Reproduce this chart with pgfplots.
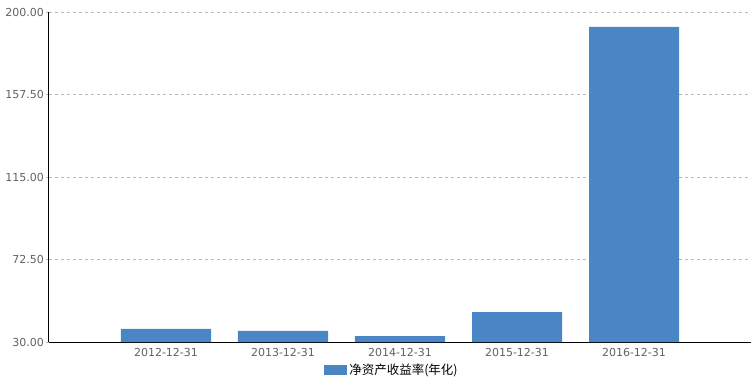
\documentclass[border=0pt]{standalone}
\usepackage{pgfplots}
\pgfplotsset{compat=1.18}
\usepackage{fontspec}
\setmainfont{DejaVu Sans}
\newfontfamily\cjk{Noto Sans CJK SC}
\definecolor{barblue}{RGB}{74,134,198}
\definecolor{ticklab}{RGB}{96,96,104}
\begin{document}
\begin{tikzpicture}
\begin{axis}[
  at={(0,0)}, anchor=south west,
  scale only axis, width=702bp, height=330bp,
  xmin=-1, xmax=5, ymin=30, ymax=200,
  xtick={0,1,2,3,4},
  xticklabels={2012-12-31,2013-12-31,2014-12-31,2015-12-31,2016-12-31},
  ytick={30,72.5,115,157.5,200},
  yticklabel style={/pgf/number format/fixed,/pgf/number format/fixed zerofill,/pgf/number format/precision=2},
  /pgf/number format/assume math mode=true,
  ticklabel style={font=\fontsize{11bp}{13bp}\selectfont, text=ticklab},
  yticklabel style={inner sep=2bp},
  xticklabel style={inner sep=3bp},
  axis x line*=bottom, axis y line*=left,
  axis line style={-, black, line width=1bp},
  major tick length=3bp,
  xtick style={draw=none},
  ytick style={draw=gray!55, line width=0.8bp},
  tick align=outside,
  ymajorgrids,
  grid style={color=gray!55, line width=0.8bp, dash pattern=on 3bp off 3bp},
  legend style={at={(axis description cs:0.4886,-0.0848)}, anchor=center, draw=none, fill=none,
    font=\cjk\fontsize{12.5bp}{14bp}\selectfont, inner sep=0pt,
    /tikz/every even column/.append style={column sep=0pt}},
  legend image code/.code={\fill[barblue] (0bp,-5bp) rectangle (23bp,5bp);},
  legend cell align=left,
]
\addplot[ybar, bar width=90bp, fill=barblue, draw=none] coordinates {
  (0,36.70) (1,35.67) (2,33.09) (3,45.45) (4,192.3)
};
\addlegendentry{净资产收益率(年化)}
\end{axis}
\path[use as bounding box] (-49bp,-45bp) rectangle (707bp,342bp);
\end{tikzpicture}
\end{document}
